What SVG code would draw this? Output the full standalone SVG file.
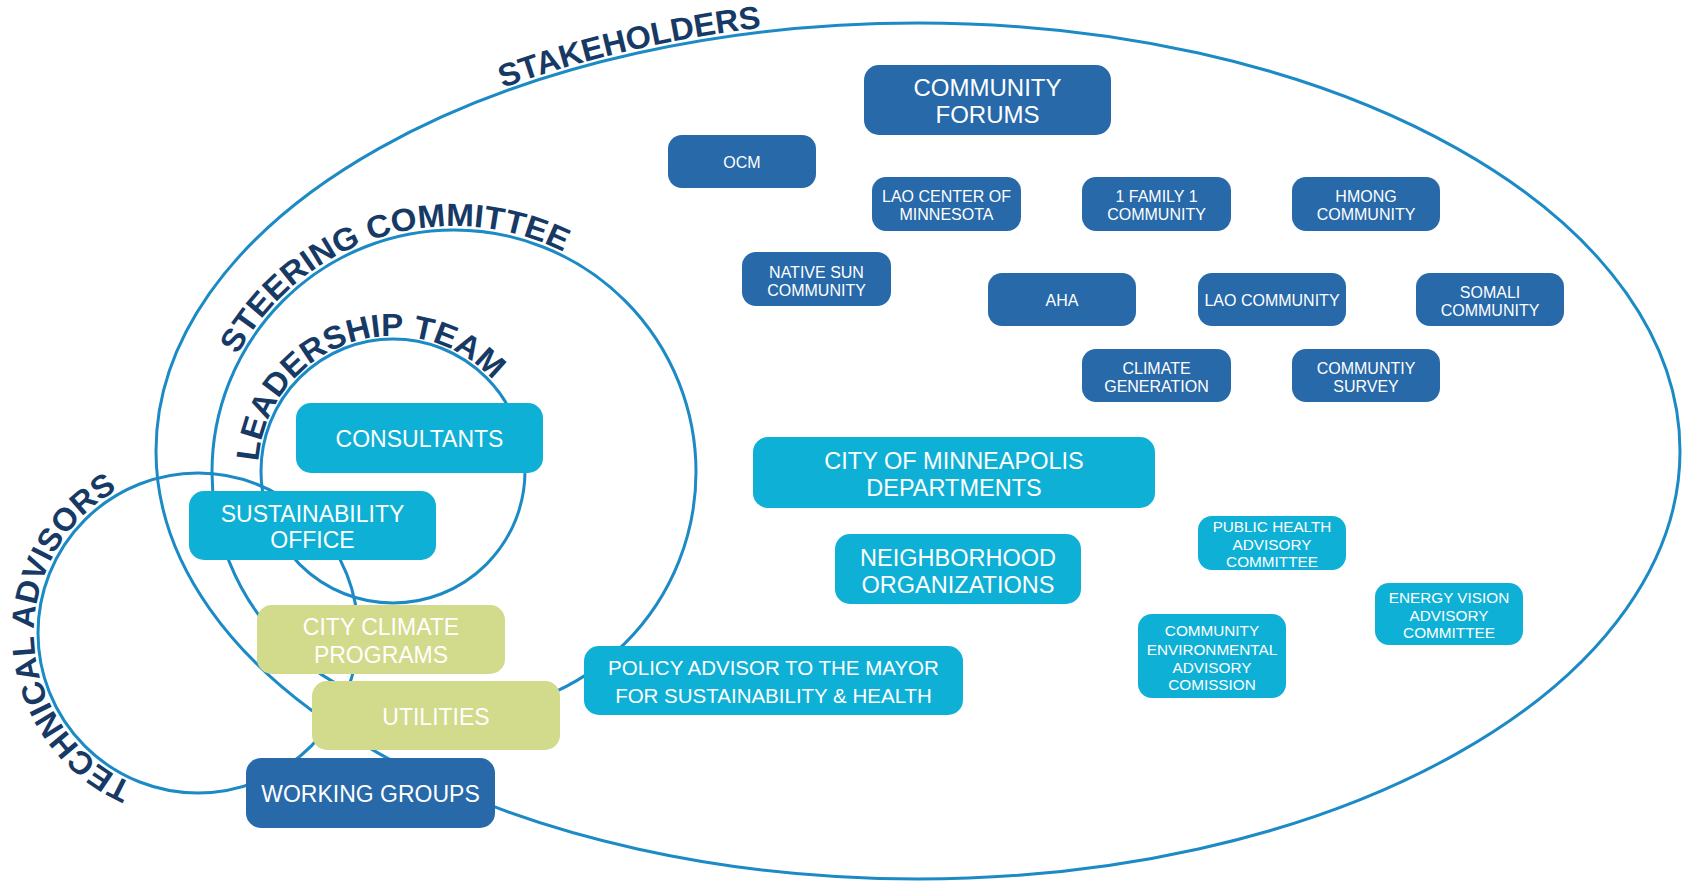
<svg xmlns="http://www.w3.org/2000/svg" xmlns:xlink="http://www.w3.org/1999/xlink" width="1685" height="882" viewBox="0 0 1685 882">
<style>
.ring{fill:none;stroke:#1c8ac5;stroke-width:3}
.dk{fill:#2769a9}
.cy{fill:#0eb0d5}
.gr{fill:#d2da8b}
.t{font-family:"Liberation Sans",Arial,sans-serif;fill:#ffffff;text-anchor:middle}
.b{font-size:23px}
.s{font-size:16px}
.xs{font-size:15.3px}
.lbl{font-family:"Liberation Sans",Arial,sans-serif;font-weight:bold;font-size:32px;fill:#163a65}
</style>
<defs>
<path id="pStake" d="M 503,88 A 766 432 0 0 1 760,28"/>
<path id="pSteer" d="M 237.6,355 A 246 246 0 0 1 563.8,251.9"/>
<path id="pLead" d="M 258.3,461.6 A 135 135 0 0 1 493.3,380.7"/>
<path id="pTech" d="M 132.9,783.5 A 164 164 0 0 1 118,489.8"/>
</defs>
<rect width="1685" height="882" fill="#ffffff"/>
<g id="rings">
<ellipse class="ring" cx="918" cy="451" rx="762" ry="428"/>
<circle class="ring" cx="454" cy="472" r="242"/>
<circle class="ring" cx="393" cy="471" r="132"/>
<circle class="ring" cx="198" cy="633" r="160"/>
</g>
<g id="ring-labels">
<text class="lbl"><textPath xlink:href="#pStake" href="#pStake" textLength="266" lengthAdjust="spacingAndGlyphs">STAKEHOLDERS</textPath></text>
<text class="lbl"><textPath xlink:href="#pSteer" href="#pSteer" textLength="378" lengthAdjust="spacingAndGlyphs">STEERING COMMITTEE</textPath></text>
<text class="lbl"><textPath xlink:href="#pLead" href="#pLead" textLength="315" lengthAdjust="spacingAndGlyphs">LEADERSHIP TEAM</textPath></text>
<text class="lbl"><textPath xlink:href="#pTech" href="#pTech" textLength="364" lengthAdjust="spacingAndGlyphs">TECHNICAL ADVISORS</textPath></text>
</g>
<g id="community-forums"><rect class="dk" x="864" y="65" width="247" height="70" rx="15"/><text class="t" font-size="24" x="987.5" y="96">COMMUNITY</text><text class="t" font-size="24" x="987.5" y="123">FORUMS</text></g>
<g id="ocm"><rect class="dk" x="668" y="135" width="148" height="53" rx="14"/><text class="t s" x="742" y="168">OCM</text></g>
<g id="lao-center"><rect class="dk" x="872" y="177" width="149" height="54" rx="14"/><text class="t s" x="946.5" y="202">LAO CENTER OF</text><text class="t s" x="946.5" y="220">MINNESOTA</text></g>
<g id="one-family"><rect class="dk" x="1082" y="177" width="149" height="54" rx="14"/><text class="t s" x="1156.5" y="202">1 FAMILY 1</text><text class="t s" x="1156.5" y="220">COMMUNITY</text></g>
<g id="hmong"><rect class="dk" x="1292" y="177" width="148" height="54" rx="14"/><text class="t s" x="1366" y="202">HMONG</text><text class="t s" x="1366" y="220">COMMUNITY</text></g>
<g id="native-sun"><rect class="dk" x="742" y="252" width="149" height="54" rx="14"/><text class="t s" x="816.5" y="278">NATIVE SUN</text><text class="t s" x="816.5" y="296">COMMUNITY</text></g>
<g id="aha"><rect class="dk" x="988" y="273" width="148" height="53" rx="14"/><text class="t s" x="1062" y="306">AHA</text></g>
<g id="lao-community"><rect class="dk" x="1198" y="273" width="148" height="53" rx="14"/><text class="t s" x="1272" y="306">LAO COMMUNITY</text></g>
<g id="somali"><rect class="dk" x="1416" y="273" width="148" height="53" rx="14"/><text class="t s" x="1490" y="298">SOMALI</text><text class="t s" x="1490" y="316">COMMUNITY</text></g>
<g id="climate-generation"><rect class="dk" x="1082" y="349" width="149" height="53" rx="14"/><text class="t s" x="1156.5" y="374">CLIMATE</text><text class="t s" x="1156.5" y="392">GENERATION</text></g>
<g id="community-survey"><rect class="dk" x="1292" y="349" width="148" height="53" rx="14"/><text class="t s" x="1366" y="374">COMMUNTIY</text><text class="t s" x="1366" y="392">SURVEY</text></g>
<g id="consultants"><rect class="cy" x="296" y="403" width="247" height="70" rx="15"/><text class="t b" x="419.5" y="447">CONSULTANTS</text></g>
<g id="sustainability-office"><rect class="cy" x="189" y="491" width="247" height="69" rx="15"/><text class="t b" x="312.5" y="522">SUSTAINABILITY</text><text class="t b" x="312.5" y="548">OFFICE</text></g>
<g id="city-departments"><rect class="cy" x="753" y="437" width="402" height="71" rx="15"/><text class="t" font-size="23.5" x="954" y="469">CITY OF MINNEAPOLIS</text><text class="t" font-size="23.5" x="954" y="496">DEPARTMENTS</text></g>
<g id="neighborhood"><rect class="cy" x="835" y="534" width="246" height="70" rx="15"/><text class="t" font-size="23.5" x="958" y="566">NEIGHBORHOOD</text><text class="t" font-size="23.5" x="958" y="593">ORGANIZATIONS</text></g>
<g id="policy-advisor"><rect class="cy" x="584" y="646" width="379" height="69" rx="15"/><text class="t" font-size="20.5" x="773.5" y="675">POLICY ADVISOR TO THE MAYOR</text><text class="t" font-size="20.5" x="773.5" y="703">FOR SUSTAINABILITY &amp; HEALTH</text></g>
<g id="public-health"><rect class="cy" x="1198" y="516" width="148" height="54" rx="14"/><text class="t xs" x="1272" y="532">PUBLIC HEALTH</text><text class="t xs" x="1272" y="549.5">ADVISORY</text><text class="t xs" x="1272" y="567">COMMITTEE</text></g>
<g id="energy-vision"><rect class="cy" x="1375" y="583" width="148" height="62" rx="14"/><text class="t xs" x="1449" y="603">ENERGY VISION</text><text class="t xs" x="1449" y="621">ADVISORY</text><text class="t xs" x="1449" y="638">COMMITTEE</text></g>
<g id="environmental-commission"><rect class="cy" x="1138" y="614" width="148" height="84" rx="14"/><text class="t xs" x="1212" y="636">COMMUNITY</text><text class="t xs" x="1212" y="655">ENVIRONMENTAL</text><text class="t xs" x="1212" y="673">ADVISORY</text><text class="t xs" x="1212" y="690">COMISSION</text></g>
<g id="city-climate"><rect class="gr" x="257" y="605" width="248" height="69" rx="15"/><text class="t b" x="381" y="635">CITY CLIMATE</text><text class="t b" x="381" y="663">PROGRAMS</text></g>
<g id="utilities"><rect class="gr" x="312" y="681" width="248" height="69" rx="15"/><text class="t b" x="436" y="725">UTILITIES</text></g>
<g id="working-groups"><rect class="dk" x="246" y="758" width="249" height="70" rx="15"/><text class="t b" x="370.5" y="802">WORKING GROUPS</text></g>
</svg>
